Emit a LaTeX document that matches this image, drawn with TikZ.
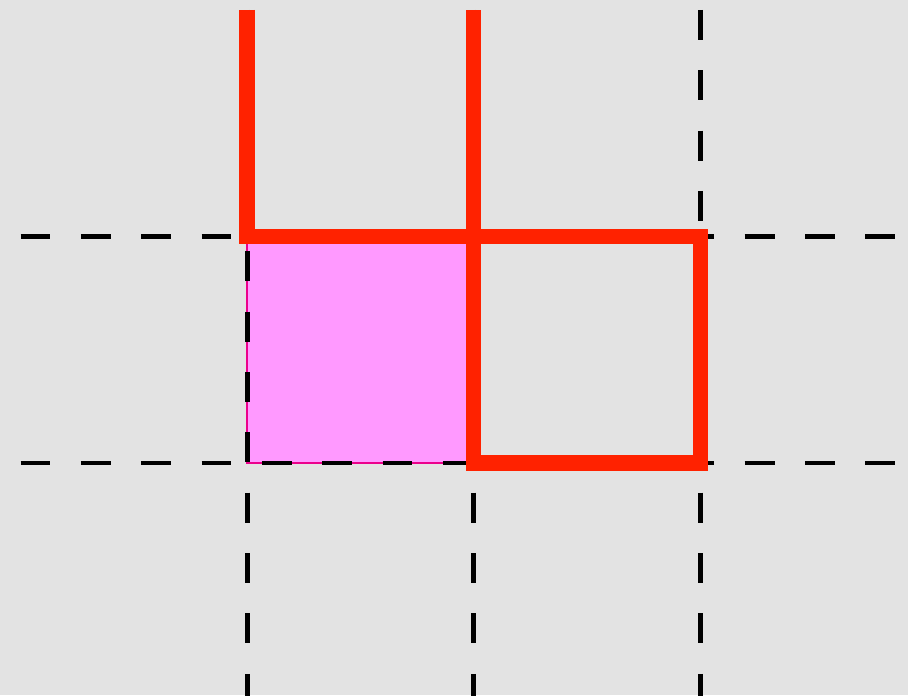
\documentclass[tikz,border=0pt]{standalone}
\definecolor{bggray}{RGB}{227,227,227}
\definecolor{cellpink}{RGB}{255,153,255}
\definecolor{pathred}{RGB}{255,34,0}

\begin{document}
\begin{tikzpicture}[x=2cm,y=2cm,
  gridline/.style={black,line width=1.25pt,dash pattern=on 7.5pt off 7.66pt},
  redpath/.style={draw=pathred,line width=3.8pt,line join=miter}]
\useasboundingbox[fill=bggray] (-0.0905,-0.0243) rectangle (3.918,3.044);
% shaded cell
\path[fill=cellpink,draw=magenta,line width=.3pt] (1,1) rectangle (2,2);
% dashed grid
\draw[gridline] (0,2) -- (3.874,2);
\draw[gridline] (0,1) -- (3.874,1);
\draw[gridline] (1,3) -- (1,-0.03);
\draw[gridline] (2,3) -- (2,-0.03);
\draw[gridline] (3,3) -- (3,-0.03);
% red path
\draw[redpath] (1,3) -- (1,2) -- (3,2) -- (3,1) -- (2,1) -- (2,3);
\end{tikzpicture}
\end{document}
